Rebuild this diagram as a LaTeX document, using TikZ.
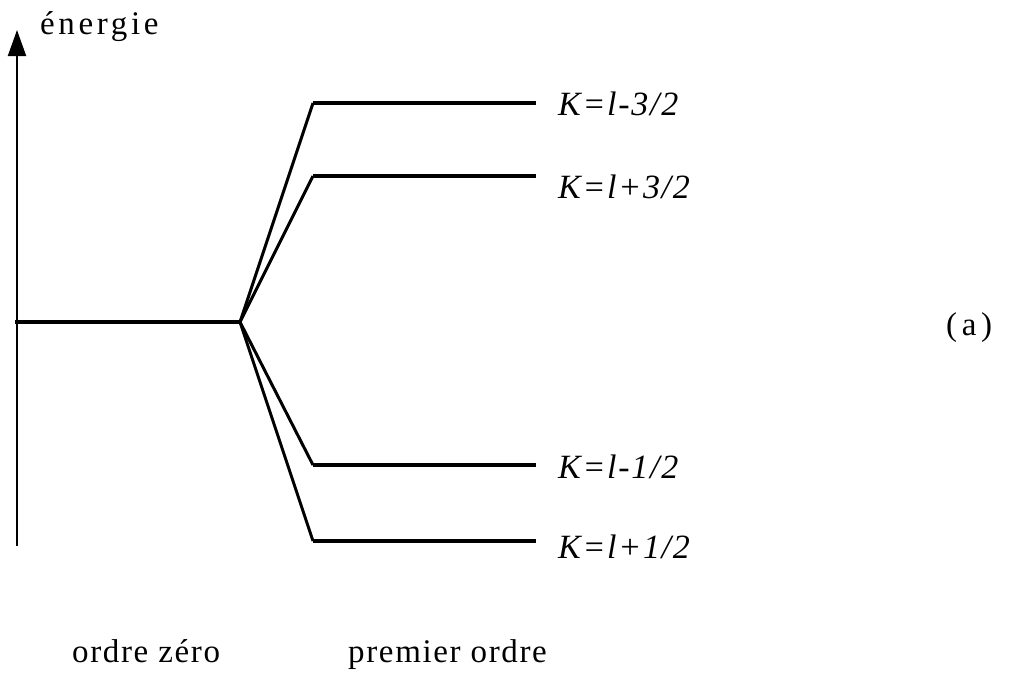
\documentclass[tikz,border=0pt]{standalone}
\usepackage{fontspec}
\setmainfont{Liberation Serif}
\newfontfamily\enfont[LetterSpace=11]{Liberation Serif}
\newfontfamily\capfont[LetterSpace=5]{Liberation Serif}
\newfontfamily\tagfont[LetterSpace=14]{Liberation Serif}
\newfontfamily\kfont[LetterSpace=5]{Liberation Serif}
\usetikzlibrary{arrows.meta}
\begin{document}
\begin{tikzpicture}[x=1pt,y=-1pt,
  level/.style={line width=4pt},
  split/.style={line width=3pt},
  klabel/.style={anchor=west,inner sep=0pt,font=\fontsize{34}{38}\kfont\itshape},
  caption/.style={anchor=base west,inner sep=0pt,font=\fontsize{33}{36}\capfont}]
\useasboundingbox (0,0) rectangle (1028,678);
% axis
\coordinate (ax0) at (17,546);
\coordinate (ax1) at (17,30);
\draw[line width=2pt,-{Triangle[length=26pt,width=18pt]}] (ax0) -- (ax1);
\node[anchor=base west,inner sep=0pt,font=\fontsize{33}{36}\enfont] (en) at (40,34) {énergie};
% zero order level
\coordinate (z0) at (15,322);
\coordinate (sp) at (240,322);
\draw[level] (z0) -- (sp);
% first order levels
\coordinate (a0) at (313,103); \coordinate (a1) at (536,103);
\coordinate (b0) at (313,176); \coordinate (b1) at (536,176);
\coordinate (c0) at (313,465); \coordinate (c1) at (536,465);
\coordinate (d0) at (313,541); \coordinate (d1) at (536,541);
\draw[level] (a0) -- (a1);
\draw[level] (b0) -- (b1);
\draw[level] (c0) -- (c1);
\draw[level] (d0) -- (d1);
\draw[split] (sp) -- (a0);
\draw[split] (sp) -- (b0);
\draw[split] (sp) -- (c0);
\draw[split] (sp) -- (d0);
% labels
\node[klabel] (la) at (558,104) {K=l-3/2};
\node[klabel] (lb) at (558,187) {K=l+3/2};
\node[klabel] (lc) at (558,467) {K=l-1/2};
\node[klabel] (ld) at (558,547) {K=l+1/2};
\node[anchor=west,inner sep=0pt,font=\fontsize{33}{36}\tagfont] (tag) at (946,328) {(a)};
\node[caption] (oz) at (72,662) {ordre zéro};
\node[caption] (po) at (348,662) {premier ordre};
\end{tikzpicture}
\end{document}
